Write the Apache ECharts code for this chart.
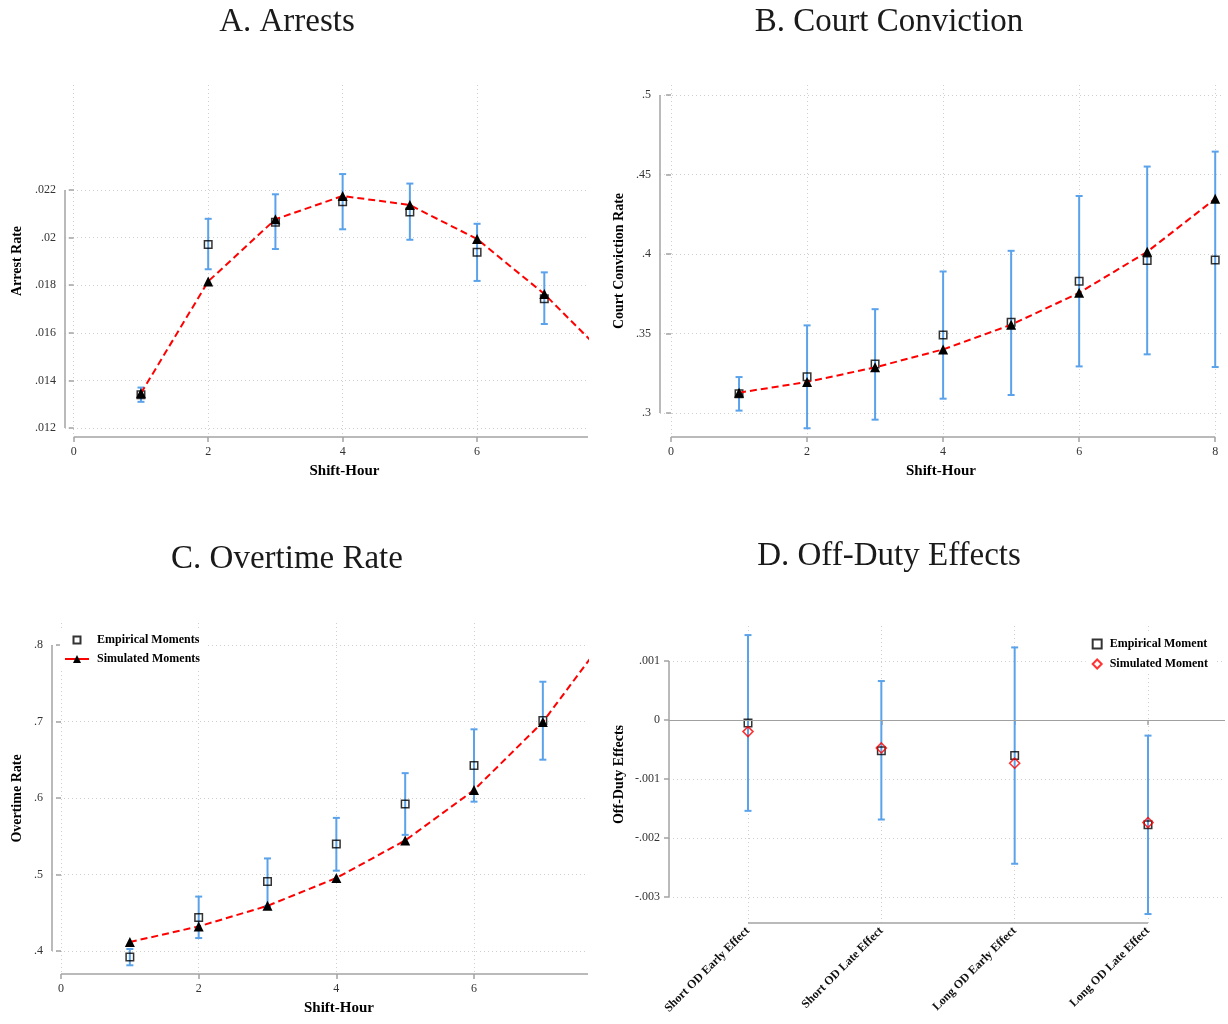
<!DOCTYPE html>
<html>
<head>
<meta charset="utf-8">
<title>Model fit: empirical vs simulated moments</title>
<script src="https://cdn.jsdelivr.net/npm/echarts@6/dist/echarts.min.js"></script>
<style>
  html, body { margin: 0; padding: 0; background: #fff; }
  #chart { width: 1228px; height: 1024px; }
</style>
</head>
<body>
<div id="chart"></div>
<script>
// ---------- data ----------
// Panel A: arrests by shift-hour
const arrestHours = [1, 2, 3, 4, 5, 6, 7];
const arrestEmp   = [0.01340, 0.01971, 0.02065, 0.02151, 0.02108, 0.01938, 0.01743];
const arrestLo    = [0.01310, 0.01867, 0.01952, 0.02035, 0.01991, 0.01818, 0.01637];
const arrestHi    = [0.01370, 0.02079, 0.02182, 0.02267, 0.02227, 0.02058, 0.01854];
const arrestSimHours = [1, 2, 3, 4, 5, 6, 7, 8];
const arrestSim   = [0.01346, 0.01816, 0.02077, 0.02175, 0.02137, 0.01994, 0.01763, 0.01480];
const arrestYTicks = [0.012, 0.014, 0.016, 0.018, 0.020, 0.022];

// Panel B: court conviction by shift-hour
const convHours = [1, 2, 3, 4, 5, 6, 7, 8];
const convEmp   = [0.3121, 0.3228, 0.3308, 0.3490, 0.3570, 0.3829, 0.3959, 0.3963];
const convLo    = [0.3015, 0.2904, 0.2958, 0.3090, 0.3113, 0.3293, 0.3369, 0.3289];
const convHi    = [0.3226, 0.3551, 0.3653, 0.3890, 0.4020, 0.4365, 0.4550, 0.4644];
const convSim   = [0.3128, 0.3195, 0.3287, 0.3400, 0.3555, 0.3756, 0.4014, 0.4347];
const convYTicks = [0.30, 0.35, 0.40, 0.45, 0.50];

// Panel C: overtime by shift-hour
const otHours = [1, 2, 3, 4, 5, 6, 7];
const otEmp   = [0.3922, 0.4438, 0.4907, 0.5397, 0.5922, 0.6425, 0.7013];
const otLo    = [0.3813, 0.4169, 0.4586, 0.5050, 0.5518, 0.5952, 0.6501];
const otHi    = [0.4026, 0.4711, 0.5210, 0.5740, 0.6325, 0.6898, 0.7520];
const otSimHours = [1, 2, 3, 4, 5, 6, 7, 8];
const otSim   = [0.4117, 0.4321, 0.4590, 0.4954, 0.5445, 0.6104, 0.6994, 0.8200];
const otYTicks = [0.4, 0.5, 0.6, 0.7, 0.8];

// Panel D: off-duty effects
const odCategories = ['Short OD Early Effect', 'Short OD Late Effect', 'Long OD Early Effect', 'Long OD Late Effect'];
const odEmp = [-0.000051, -0.000520, -0.000604, -0.001777];
const odLo  = [-0.001540, -0.001687, -0.002437, -0.003289];
const odHi  = [ 0.001439,  0.000660,  0.001230, -0.000265];
const odSim = [-0.000197, -0.000474, -0.000733, -0.001738];
const odYTicks = [-0.003, -0.002, -0.001, 0, 0.001];

const hourTicks4 = [0, 2, 4, 6];
const hourTicks5 = [0, 2, 4, 6, 8];

// ---------- styling ----------
const FONT = '"Liberation Serif", "Times New Roman", serif';
const BAR_BLUE = '#5aa2ea';
const AXIS_GRAY = '#a3a3a3';
const GRID_GRAY = '#cfcfcf';

// ".022" style number labels (no leading zero)
function shortNum(v) {
  if (v === 0) return '0';
  const s = String(+(+v).toPrecision(6));
  return s.replace(/^(-?)0\./, '$1.');
}

// plot-region extents (data units) for each panel
const panelLayout = [
  { grid: { left: 65,  top: 85,  width: 523, height: 352 }, x: [-0.13, 7.65],  y: [0.011622, 0.026412] },
  { grid: { left: 660, top: 85,  width: 562, height: 352 }, x: [-0.162, 8.10], y: [0.2849, 0.5063] },
  { grid: { left: 52,  top: 623, width: 536, height: 351 }, x: [-0.131, 7.656], y: [0.3699, 0.8288] },
  { grid: { left: 669, top: 626, width: 556, height: 297 }, x: [0.4075, 4.5775], y: [-0.003441, 0.001593] }
];

const tickText = { fontFamily: FONT, fontSize: 12, color: '#333' };
const nameText = { fontFamily: FONT, fontSize: 14, fontWeight: 'bold', color: '#000' };

function makeXAxis(i, ticks, name, extra) {
  const L = panelLayout[i];
  return Object.assign({
    type: 'value', gridIndex: i, min: L.x[0], max: L.x[1],
    axisLine: { show: false },
    axisTick: { show: true, customValues: ticks, length: 5, lineStyle: { color: AXIS_GRAY, width: 1.5 } },
    axisLabel: Object.assign({ customValues: ticks, formatter: shortNum, margin: 9 }, tickText),
    splitLine: { show: true, lineStyle: { color: GRID_GRAY, type: [1, 3], width: 1 } },
    name: name, nameLocation: 'middle', nameGap: 27,
    nameTextStyle: Object.assign({}, nameText, { fontSize: 15 })
  }, extra || {});
}

function makeYAxis(i, ticks, name, gap) {
  const L = panelLayout[i];
  return {
    type: 'value', gridIndex: i, min: L.y[0], max: L.y[1],
    axisLine: { show: false },
    axisTick: { show: true, customValues: ticks, length: 5, lineStyle: { color: AXIS_GRAY, width: 1.5 } },
    axisLabel: Object.assign({ customValues: ticks, formatter: shortNum, margin: 9 }, tickText),
    splitLine: { show: true, lineStyle: { color: GRID_GRAY, type: [1, 3], width: 1 } },
    name: name, nameLocation: 'middle', nameGap: gap, nameRotate: 90,
    nameTextStyle: nameText
  };
}

// axis lines that run only over the labelled span
function axisFrame(i, xSpan, ySpan) {
  const L = panelLayout[i];
  const style = { color: AXIS_GRAY, width: 1.5, type: 'solid' };
  const common = { type: 'line', xAxisIndex: i, yAxisIndex: i, symbol: 'none', silent: true, clip: false, z: 1, lineStyle: style };
  return [
    Object.assign({ data: [[xSpan[0], L.y[0]], [xSpan[1], L.y[0]]] }, common),
    Object.assign({ data: [[L.x[0], ySpan[0]], [L.x[0], ySpan[1]]] }, common)
  ];
}

function errorBars(i, xs, lo, hi) {
  return {
    type: 'custom', xAxisIndex: i, yAxisIndex: i, z: 2, silent: true,
    data: xs.map((x, k) => [x, lo[k], hi[k]]),
    renderItem: function (params, api) {
      const top = api.coord([api.value(0), api.value(2)]);
      const bot = api.coord([api.value(0), api.value(1)]);
      const c = 3.5;
      const st = { stroke: BAR_BLUE, lineWidth: 2 };
      return {
        type: 'group', children: [
          { type: 'line', shape: { x1: top[0], y1: top[1], x2: bot[0], y2: bot[1] }, style: st },
          { type: 'line', shape: { x1: top[0] - c, y1: top[1], x2: top[0] + c, y2: top[1] }, style: st },
          { type: 'line', shape: { x1: bot[0] - c, y1: bot[1], x2: bot[0] + c, y2: bot[1] }, style: st }
        ]
      };
    }
  };
}

function empirical(i, name, xs, ys) {
  return {
    name: name, type: 'scatter', xAxisIndex: i, yAxisIndex: i, z: 3,
    symbol: 'rect', symbolSize: 7.5,
    itemStyle: { color: 'rgba(255,255,255,0)', borderColor: '#000', borderWidth: 1.5 },
    data: xs.map((x, k) => [x, ys[k]])
  };
}

function simulatedLine(i, name, xs, ys) {
  return {
    name: name, type: 'line', xAxisIndex: i, yAxisIndex: i, z: 4, clip: true,
    symbol: 'triangle', symbolSize: 10, showAllSymbol: true,
    itemStyle: { color: '#000' },
    lineStyle: { color: '#ff0000', width: 2, type: [7, 4] },
    data: xs.map((x, k) => [x, ys[k]])
  };
}

const titleStyle = { fontFamily: FONT, fontSize: 33, fontWeight: 'normal', color: '#1a1a1a' };

const option = {
  animation: false,
  backgroundColor: '#fff',
  title: [
    { text: 'A. Arrests',          left: 282, top: 1,   textAlign: 'center', textStyle: titleStyle },
    { text: 'B. Court Conviction', left: 884, top: 1,   textAlign: 'center', textStyle: titleStyle },
    { text: 'C. Overtime Rate',    left: 282, top: 538, textAlign: 'center', textStyle: titleStyle },
    { text: 'D. Off-Duty Effects', left: 884, top: 535, textAlign: 'center', textStyle: titleStyle }
  ],
  grid: panelLayout.map(L => Object.assign({ containLabel: false }, L.grid)),
  xAxis: [
    makeXAxis(0, hourTicks4, 'Shift-Hour', { nameTextStyle: Object.assign({}, nameText, { fontSize: 15, padding: [0, 0, 0, 36] }) }),
    makeXAxis(1, hourTicks5, 'Shift-Hour'),
    makeXAxis(2, hourTicks4, 'Shift-Hour', { nameTextStyle: Object.assign({}, nameText, { fontSize: 15, padding: [0, 0, 0, 38] }) }),
    makeXAxis(3, [1, 2, 3, 4], '', {
      axisLabel: {
        customValues: [1, 2, 3, 4], rotate: 45, margin: 6,
        formatter: v => odCategories[Math.round(v) - 1],
        fontFamily: FONT, fontSize: 12, fontWeight: 'bold', color: '#111'
      }
    })
  ],
  yAxis: [
    makeYAxis(0, arrestYTicks, 'Arrest Rate', 41),
    makeYAxis(1, convYTicks, 'Court Conviction Rate', 34),
    makeYAxis(2, otYTicks, 'Overtime Rate', 28),
    makeYAxis(3, odYTicks, 'Off-Duty Effects', 43)
  ],
  legend: [
    {
      data: [
        { name: 'Empirical Moments', icon: 'path://M0,0M10,10M1.5,1.5L8.5,1.5L8.5,8.5L1.5,8.5Z' },
        { name: 'Simulated Moments' }
      ],
      orient: 'vertical', left: 60, top: 630,
      itemWidth: 24, itemHeight: 10, itemGap: 7,
      backgroundColor: '#fff', padding: [4, 6, 4, 4],
      lineStyle: { type: 'solid', width: 2 },
      textStyle: { fontFamily: FONT, fontSize: 12, fontWeight: 'bold', color: '#000', padding: [0, 0, 0, 3] },
      selectedMode: false
    },
    {
      data: ['Empirical Moment', 'Simulated Moment'],
      orient: 'vertical', right: 14, top: 634,
      itemWidth: 9, itemHeight: 9, itemGap: 8,
      backgroundColor: '#fff', padding: [4, 6, 4, 6],
      textStyle: { fontFamily: FONT, fontSize: 12, fontWeight: 'bold', color: '#000', padding: [0, 0, 0, 3] },
      selectedMode: false
    }
  ],
  series: [
    // A
    ...axisFrame(0, [0, panelLayout[0].x[1]], [0.012, 0.022]),
    errorBars(0, arrestHours, arrestLo, arrestHi),
    empirical(0, 'Empirical Moments', arrestHours, arrestEmp),
    simulatedLine(0, 'Simulated Moments', arrestSimHours, arrestSim),
    // B
    ...axisFrame(1, [0, 8], [0.30, 0.50]),
    errorBars(1, convHours, convLo, convHi),
    empirical(1, 'Empirical Moments', convHours, convEmp),
    simulatedLine(1, 'Simulated Moments', convHours, convSim),
    // C
    ...axisFrame(2, [0, panelLayout[2].x[1]], [0.4, 0.8]),
    errorBars(2, otHours, otLo, otHi),
    empirical(2, 'Empirical Moments', otHours, otEmp),
    simulatedLine(2, 'Simulated Moments', otSimHours, otSim),
    // D
    ...axisFrame(3, [1, 4], [-0.003, 0.001]),
    errorBars(3, [1, 2, 3, 4], odLo, odHi),
    {
      name: 'Empirical Moment', type: 'scatter', xAxisIndex: 3, yAxisIndex: 3, z: 3,
      symbol: 'rect', symbolSize: 7.5,
      itemStyle: { color: 'rgba(255,255,255,0)', borderColor: '#000', borderWidth: 1.5 },
      data: odEmp.map((v, k) => [k + 1, v]),
      markLine: {
        silent: true, symbol: 'none', label: { show: false },
        lineStyle: { color: '#a0a0a0', width: 1, type: 'solid' },
        data: [{ yAxis: 0 }]
      }
    },
    {
      name: 'Simulated Moment', type: 'scatter', xAxisIndex: 3, yAxisIndex: 3, z: 4,
      symbol: 'diamond', symbolSize: 10,
      itemStyle: { color: 'rgba(255,255,255,0)', borderColor: '#ff0000', borderWidth: 1.6 },
      data: odSim.map((v, k) => [k + 1, v])
    }
  ]
};

const chart = echarts.init(document.getElementById('chart'), null, { renderer: 'canvas' });
chart.setOption(option);
</script>
</body>
</html>
